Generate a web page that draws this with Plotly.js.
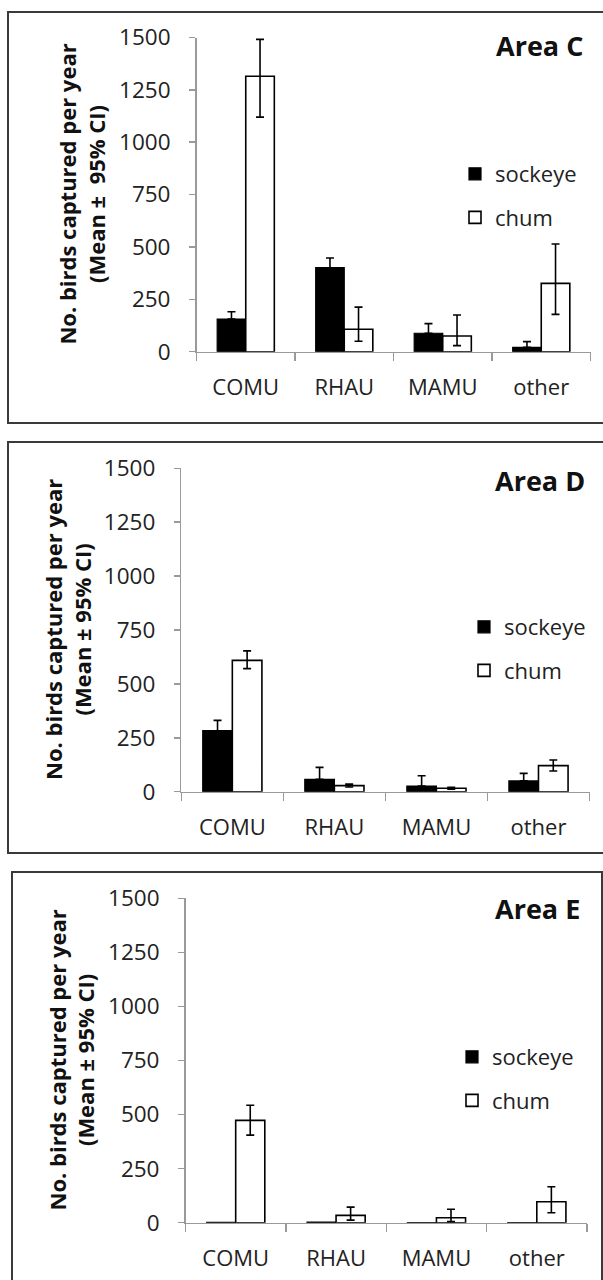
<!DOCTYPE html>
<html>
<head>
<meta charset="utf-8">
<script src="https://cdn.plot.ly/plotly-3.0.1.min.js"></script>
<style>html,body{margin:0;padding:0;background:#fff;}#chart{width:603px;height:1280px;}</style>
</head>
<body>
<div id="chart"></div>
<script>
// ---- data ----
const categories = ['COMU', 'RHAU', 'MAMU', 'other'];
const yTicks = [0, 250, 500, 750, 1000, 1250, 1500];

const sockeyeC = [156, 401, 88, 21];
const sockeyeCPlus = [35, 46, 46, 27];
const chumC = [1315, 107, 75, 326];
const chumCPlus = [176, 106, 100, 188];
const chumCMinus = [195, 57, 46, 148];

const sockeyeD = [283, 57, 26, 50];
const sockeyeDPlus = [48, 56, 48, 35];
const chumD = [609, 28, 16, 121];
const chumDPlus = [44, 7, 4, 26];
const chumDMinus = [38, 6, 4, 25];

const sockeyeE = [2, 3, 1, 1];
const chumE = [473, 34, 23, 97];
const chumEPlus = [70, 38, 39, 69];
const chumEMinus = [68, 22, 18, 51];

const panelTitles = ['Area C', 'Area D', 'Area E'];
const yTitles = ['No. birds captured per year<br>(Mean \u00b1\u00a0 95% CI)',
                 'No. birds captured per year<br>(Mean \u00b1 95% CI)',
                 'No. birds captured per year<br>(Mean \u00b1 95% CI)'];

// ---- layout helpers ----
const W = 603, H = 1280;
const px = v => v / W;
const py = v => 1 - v / H;
const FONT = 'Open Sans, Lato, sans-serif';

const panels = [
  {xa: 'x', ya: 'y', leg: 'legend', sock: sockeyeC, sockP: sockeyeCPlus, chum: chumC, chumP: chumCPlus, chumM: chumCMinus,
   xd: [196.5, 590.5], yd: [351.7, 37.5], ytitle: 82, title: [585, 45], legY: 196, legX: 455, frame: [8, 12, 620, 423]},
  {xa: 'x2', ya: 'y2', leg: 'legend2', sock: sockeyeD, sockP: sockeyeDPlus, chum: chumD, chumP: chumDPlus, chumM: chumDMinus,
   xd: [181.3, 589.5], yd: [791.7, 468.3], ytitle: 67, title: [587, 480], legY: 649, legX: 464, frame: [8, 442, 620, 853]},
  {xa: 'x3', ya: 'y3', leg: 'legend3', sock: sockeyeE, sockP: null, chum: chumE, chumP: chumEPlus, chumM: chumEMinus,
   xd: [185.5, 587], yd: [1222.7, 898.3], ytitle: 71, title: [582, 908], legY: 1079, legX: 452, frame: [12, 872, 602, 1300]}
];

const data = [];
const layout = {
  width: W, height: H,
  margin: {l: 0, r: 0, t: 0, b: 0},
  paper_bgcolor: '#fff', plot_bgcolor: '#fff',
  barmode: 'group', bargap: 0.42, bargroupgap: 0,
  font: {family: FONT, color: '#222', size: 22},
  showlegend: true,
  annotations: [], shapes: []
};

panels.forEach((p, i) => {
  const sockErr = p.sockP ? {type: 'data', symmetric: false, array: p.sockP, arrayminus: p.sockP.map(() => 0),
                             color: '#000', thickness: 1.6, width: 4} : {visible: false};
  data.push({
    type: 'bar', name: 'sockeye', x: categories, y: p.sock, xaxis: p.xa, yaxis: p.ya,
    marker: {color: '#000', line: {color: '#000', width: 1.2}},
    error_y: sockErr, legend: p.leg, legendgroup: 's' + i, hoverinfo: 'skip'
  });
  data.push({
    type: 'bar', name: 'chum', x: categories, y: p.chum, xaxis: p.xa, yaxis: p.ya,
    marker: {color: '#fff', line: {color: '#000', width: 1.6}},
    error_y: {type: 'data', symmetric: false, array: p.chumP, arrayminus: p.chumM, color: '#000', thickness: 1.6, width: 4},
    legend: p.leg, legendgroup: 'c' + i, hoverinfo: 'skip'
  });

  const sfx = i === 0 ? '' : String(i + 1);
  layout['xaxis' + sfx] = {
    domain: [px(p.xd[0]), px(p.xd[1])], anchor: p.ya,
    type: 'category', range: [-0.5, 3.5], fixedrange: true,
    showline: true, linecolor: '#9a9a9a', linewidth: 1.5,
    ticks: 'outside', tickson: 'boundaries', ticklen: 8, tickcolor: '#9a9a9a', tickwidth: 1.5,
    tickfont: {family: FONT, size: 22, color: '#222'}, ticklabelstandoff: 15,
    showgrid: false, zeroline: false
  };
  layout['yaxis' + sfx] = {
    domain: [py(p.yd[0]), py(p.yd[1])], anchor: p.xa,
    range: [0, 1500], tickvals: yTicks, ticktext: yTicks.map(String), fixedrange: true,
    showline: true, linecolor: '#9a9a9a', linewidth: 1.5,
    ticks: 'outside', ticklen: 6, tickcolor: '#9a9a9a', tickwidth: 1.5,
    tickfont: {family: FONT, size: 22.5, color: '#222'}, ticklabelstandoff: 14,
    showgrid: false, zeroline: false
  };

  layout[p.leg] = {
    x: px(p.legX), xanchor: 'left', y: py(p.legY), yanchor: 'middle',
    bgcolor: 'rgba(0,0,0,0)', borderwidth: 0,
    font: {family: FONT, size: 22, color: '#222'},
    traceorder: 'grouped', tracegroupgap: 12, itemclick: false, itemdoubleclick: false
  };

  layout.annotations.push({
    xref: 'paper', yref: 'paper', x: px(p.title[0]), y: py(p.title[1]),
    xanchor: 'right', yanchor: 'middle', showarrow: false,
    text: '<b>' + panelTitles[i] + '</b>', font: {family: FONT, size: 27, color: '#111'}
  });
  layout.annotations.push({
    xref: 'paper', yref: 'paper', x: px(p.ytitle), y: py((p.yd[0] + p.yd[1]) / 2),
    xanchor: 'center', yanchor: 'middle', showarrow: false, textangle: -90,
    text: '<b>' + yTitles[i] + '</b>', font: {family: FONT, size: 22, color: '#111'}
  });

  layout.shapes.push({
    type: 'rect', xref: 'paper', yref: 'paper', layer: 'below',
    x0: px(p.frame[0]), x1: px(p.frame[2]), y0: py(p.frame[1]), y1: py(p.frame[3]),
    line: {color: '#3a3a3a', width: 2}, fillcolor: 'rgba(0,0,0,0)'
  });
});

Plotly.newPlot('chart', data, layout, {displayModeBar: false, staticPlot: true});
</script>
</body>
</html>
